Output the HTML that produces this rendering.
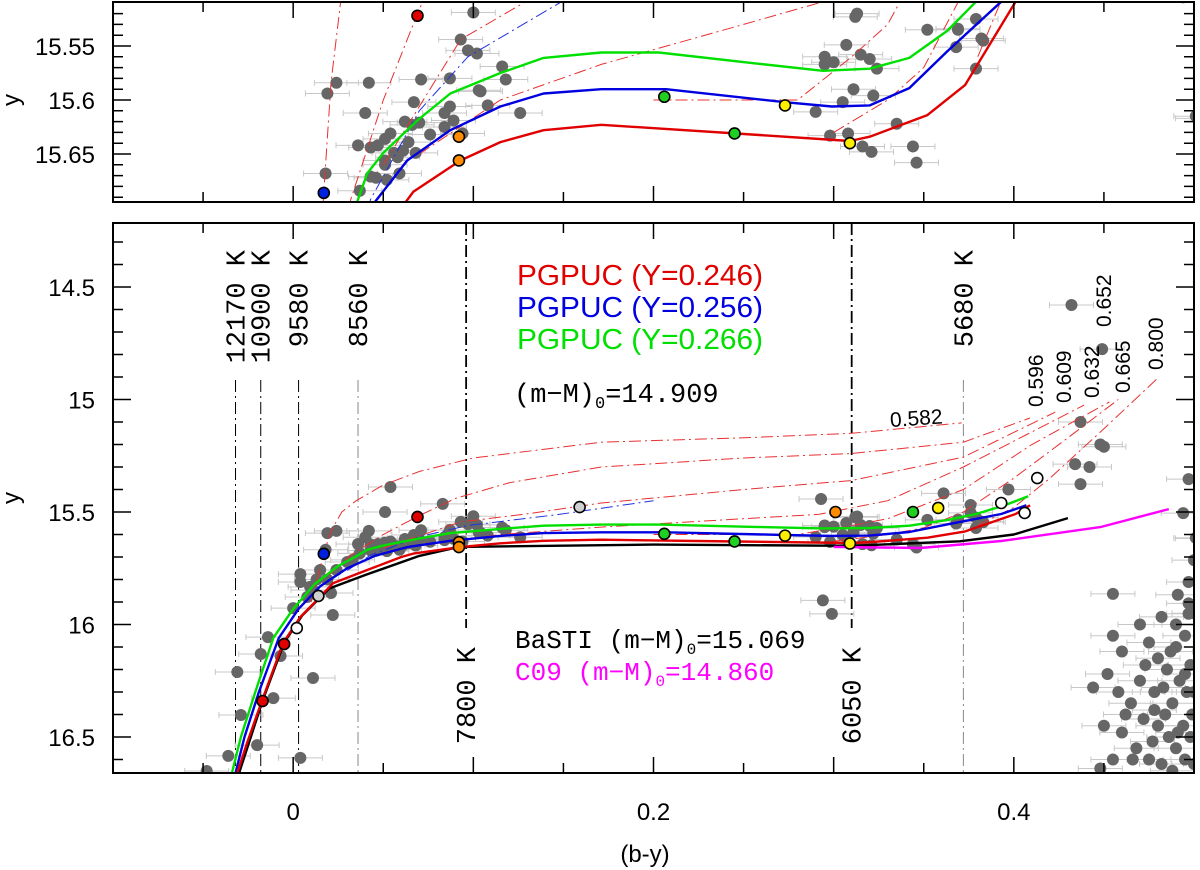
<!DOCTYPE html>
<html><head><meta charset="utf-8">
<style>
html,body{margin:0;padding:0;background:#fff;width:1200px;height:870px;overflow:hidden;}
svg{display:block;}
text{font-family:"Liberation Sans",sans-serif;}
.mono{font-family:"Liberation Mono",monospace;}
</style></head>
<body>
<svg id="chart" xmlns="http://www.w3.org/2000/svg" width="1200" height="870" viewBox="0 0 1200 870">
<defs>
<clipPath id="clipTop"><rect x="113" y="2" width="1081" height="200"/></clipPath>
<clipPath id="clipBot"><rect x="113" y="223" width="1081" height="550"/></clipPath>
</defs>
<g id="topPanel"></g>
<g id="botPanel"></g>
<g id="axes"></g>
<g id="labels"></g>
</svg>
<script>
// ---------- DATA ----------
const xTickLabels = ["0", "0.2", "0.4"];
const xTickLabelVals = [0, 0.2, 0.4];
const botYLabels = ["14.5", "15", "15.5", "16", "16.5"];
const botYLabelVals = [14.5, 15, 15.5, 16, 16.5];
const topYLabels = ["15.55", "15.6", "15.65"];
const topYLabelVals = [15.55, 15.6, 15.65];

const redY246 = [[-0.031,16.66],[-0.0256,16.527],[-0.0172,16.336],[-0.0056,16.082],[0.0039,15.967],[0.0133,15.891],[0.0222,15.816],[0.0411,15.758],[0.06,15.70],[0.0667,15.685],[0.0928,15.656],[0.115,15.639],[0.139,15.628],[0.171,15.623],[0.246,15.631],[0.309,15.638],[0.32,15.634],[0.352,15.614],[0.373,15.586],[0.401,15.509],[0.409,15.47]];
const blueY256 = [[-0.032,16.66],[-0.027,16.5],[-0.019,16.3],[-0.008,16.06],[0.003,15.93],[0.015,15.83],[0.03,15.75],[0.0456,15.694],[0.0633,15.656],[0.0872,15.628],[0.115,15.606],[0.139,15.594],[0.171,15.59],[0.207,15.59],[0.273,15.602],[0.299,15.606],[0.32,15.605],[0.342,15.589],[0.363,15.555],[0.393,15.509],[0.407,15.47]];
const greenY266 = [[-0.034,16.66],[-0.029,16.5],[-0.021,16.3],[-0.011,16.06],[0.0,15.93],[0.012,15.82],[0.025,15.74],[0.0356,15.694],[0.0411,15.668],[0.05,15.649],[0.0689,15.619],[0.0872,15.594],[0.115,15.575],[0.139,15.561],[0.171,15.556],[0.203,15.556],[0.256,15.566],[0.294,15.573],[0.32,15.571],[0.342,15.561],[0.363,15.536],[0.379,15.509],[0.395,15.47],[0.408,15.43]];
const bastiLine = [[-0.03,16.66],[-0.017,16.34],[-0.005,16.08],[0.005,15.96],[0.02,15.84],[0.04,15.78],[0.07,15.695],[0.092,15.655],[0.2,15.645],[0.31,15.65],[0.37,15.63],[0.40,15.60],[0.43,15.527]];
const c09Line = [[0.30,15.655],[0.348,15.66],[0.393,15.629],[0.448,15.567],[0.486,15.487]];
const blueTrack = [[0.03,15.76],[0.043,15.692],[0.07,15.61],[0.097,15.56],[0.148,15.51],[0.2,15.45]];

const trackMasses = ["0.582","0.596","0.609","0.632","0.652","0.665","0.800"];
const track582 = [[0.01,15.9],[0.017,15.685],[0.021,15.584],[0.027,15.50],[0.035,15.45],[0.05,15.38],[0.07,15.32],[0.1,15.26],[0.171,15.19],[0.25,15.17],[0.31,15.15],[0.371,15.104]];
const track596 = [[0.02,15.78],[0.032,15.692],[0.05,15.60],[0.069,15.52],[0.09,15.44],[0.12,15.37],[0.171,15.30],[0.25,15.26],[0.31,15.24],[0.372,15.19],[0.409,15.082]];
const track609 = [[0.05,15.66],[0.093,15.544],[0.131,15.507],[0.171,15.46],[0.25,15.40],[0.31,15.36],[0.372,15.256],[0.423,15.056]];
const track632 = [[0.07,15.65],[0.115,15.60],[0.171,15.567],[0.25,15.53],[0.292,15.51],[0.33,15.45],[0.372,15.30],[0.439,15.025]];
const track652 = [[0.2,15.60],[0.28,15.60],[0.31,15.56],[0.33,15.53],[0.372,15.40],[0.41,15.2],[0.453,15.011]];
const track665 = [[0.30,15.63],[0.33,15.60],[0.35,15.57],[0.372,15.50],[0.40,15.35],[0.43,15.17],[0.458,15.0]];
const track800 = [[0.38,15.56],[0.40,15.48],[0.42,15.35],[0.45,15.13],[0.48,14.904]];

const starsBV = [0.100,0.093,0.097,0.102,0.116,0.118,0.087,0.071,0.042,0.024,0.019,0.103,0.104,0.067,0.108,0.126,0.040,0.087,0.084,0.062,0.066,0.070,0.089,0.084,0.076,0.054,0.051,0.064,0.036,0.043,0.047,0.056,0.061,0.068,0.058,0.051,0.051,0.059,0.043,0.046,0.052,0.018,0.037,0.094,
0.313,0.312,0.352,0.369,0.379,0.307,0.295,0.295,0.300,0.315,0.320,0.324,0.368,0.383,0.379,0.311,0.322,0.305,0.290,0.335,0.298,0.308,0.316,0.321,0.344,0.346,0.502,
0.054,0.083,0.051,0.004,0.004,0.0,0.011,0.021,0.022,-0.014,-0.018,-0.007,-0.031,0.011,-0.011,-0.029,-0.020,-0.036,0.004,-0.048,0.030,0.033,0.024,0.015,0.013,0.0094,0.019,0.0078,
0.293,0.361,0.397,0.437,0.448,0.45,0.434,0.442,0.437,0.376,0.376,0.369,0.382,0.497,0.494,0.501,0.50,0.497,0.455,0.491,0.497,0.497,0.482,0.294,0.299,0.432,0.449,
0.455,0.46,0.452,0.47,0.475,0.48,0.485,0.49,0.495,0.498,0.47,0.478,0.483,0.488,0.492,0.496,0.499,0.465,0.472,0.48,0.486,0.49,0.494,0.498,0.46,0.468,0.475,0.482,0.488,0.495,0.5,0.455,0.462,0.477,0.484,0.491,0.473,0.487,0.495,0.444,0.45,0.458,0.466,0.478,0.5,0.448,0.49,0.5];
const starsY = [15.519,15.544,15.554,15.557,15.569,15.581,15.580,15.581,15.584,15.584,15.594,15.591,15.592,15.602,15.605,15.612,15.612,15.606,15.612,15.620,15.623,15.621,15.619,15.625,15.632,15.631,15.636,15.639,15.642,15.644,15.642,15.649,15.647,15.649,15.653,15.656,15.660,15.668,15.671,15.672,15.674,15.668,15.684,15.631,
15.520,15.523,15.535,15.534,15.525,15.549,15.560,15.567,15.565,15.558,15.562,15.571,15.551,15.545,15.571,15.590,15.596,15.602,15.611,15.622,15.633,15.631,15.643,15.648,15.643,15.658,15.617,
15.389,15.464,15.50,15.776,15.811,15.927,15.847,15.86,15.958,16.056,16.131,16.14,16.211,16.238,16.327,16.402,16.536,16.584,16.593,16.651,15.722,15.713,15.758,15.758,15.80,15.833,15.80,15.878,
15.442,15.417,15.40,15.10,15.20,15.21,15.287,15.30,15.376,15.469,15.504,15.535,15.543,15.354,15.505,15.615,15.714,15.811,15.864,15.868,15.906,15.952,15.966,15.893,15.953,14.58,14.776,
16.05,16.12,16.22,16.0,16.08,16.15,16.2,16.1,16.05,16.18,16.25,16.3,16.28,16.35,16.25,16.3,16.4,16.35,16.42,16.45,16.5,16.55,16.45,16.5,16.48,16.55,16.6,16.62,16.65,16.6,16.62,16.6,16.4,16.52,16.4,16.48,16.18,16.12,16.22,16.28,16.45,16.3,16.6,16.38,16.3,16.64,16.0,15.95];

const specialBV = [0.069,0.017,0.014,0.002,-0.005,-0.017,0.159,0.092,0.092,0.206,0.245,0.273,0.309,0.301,0.344,0.358,0.393,0.406,0.413];
const specialY  = [15.522,15.686,15.873,16.016,16.087,16.34,15.478,15.634,15.656,15.597,15.631,15.605,15.640,15.50,15.50,15.482,15.46,15.504,15.349];
const specialKind = ["red","blue","lightgray","white","red","red","lightgray","orange","orange","green","green","yellow","yellow","orange","green","yellow","white","white","white"];

const tempLabels = ["12170 K","10900 K","9580 K","8560 K","7800 K","6050 K","5680 K"];
const tempBV = [-0.032,-0.018,0.003,0.036,0.096,0.31,0.372];

// ---------- SCALES ----------
const X0=113, X1=1194, XMIN=-0.1, XMAX=0.5;
function sx(b){return X0+(b-XMIN)*(X1-X0)/(XMAX-XMIN);}
function syB(m){return 512+(m-15.5)*225;}
function syT(m){return 100+(m-15.6)*1080;}
const NS="http://www.w3.org/2000/svg";
function mk(tag,attrs,parent){const e=document.createElementNS(NS,tag);for(const k in attrs)e.setAttribute(k,attrs[k]);parent.appendChild(e);return e;}

const gTopPanel=document.getElementById('topPanel');
const gBotPanel=document.getElementById('botPanel');
const gAxes=document.getElementById('axes');
const gLab=document.getElementById('labels');
const gT=mk('g',{'clip-path':'url(#clipTop)'},gTopPanel);


const gB=mk('g',{'clip-path':'url(#clipBot)'},gBotPanel);



function pathD(arr,sy){return arr.map((p,i)=>(i?'L':'M')+sx(p[0]).toFixed(1)+' '+sy(p[1]).toFixed(1)).join(' ');}

// ---------- TEMPERATURE LINES (bottom) ----------
const tempSpan = [[380,773],[380,773],[380,773],[380,773],[223,628],[223,628],[380,773]];
const tempStyle = ["#000","#000","#000","#888","#000","#000","#888"];
tempBV.forEach((b,i)=>{
  const l=mk('line',{x1:sx(b),x2:sx(b),y1:tempSpan[i][0],y2:tempSpan[i][1],stroke:tempStyle[i],'stroke-width':(i==4||i==5)?1.8:1,'stroke-dasharray':'12,4,2,4',fill:'none'},gB);
  
  
});

// ---------- ERROR BARS + STARS ----------
function drawStars(g,sy,yerr){
  starsBV.forEach((b,i)=>{
    const cx=sx(b), cy=sy(starsY[i]);
    const e=mk('path',{d:`M${cx-22} ${cy}H${cx+22}M${cx-22} ${cy-3}V${cy+3}M${cx+22} ${cy-3}V${cy+3}M${cx} ${cy-yerr}V${cy+yerr}`,stroke:'#c8c8c8','stroke-width':1,fill:'none'},g);
    
    
  });
  starsBV.forEach((b,i)=>{
    const c=mk('circle',{cx:sx(b),cy:sy(starsY[i]),r:6,fill:'#666'},g);
    
    
  });
}

function drawTracks(g,sy){
  const tr=[track582,track596,track609,track632,track652,track665,track800];
  tr.forEach((t,i)=>{
    const p=mk('path',{d:pathD(t,sy),stroke:'#e83030','stroke-width':1,fill:'none','stroke-dasharray':'12,4,2,4'},g);
    
    
  });
  const bt=mk('path',{d:pathD(blueTrack,sy),stroke:'#2030e0','stroke-width':1,fill:'none','stroke-dasharray':'12,4,2,4'},g);
  
  
}

function drawCurves(g,sy,withRef){
  const list=[[greenY266,'#00e000','pgpuc-y0266'],[blueY256,'#0000e0','pgpuc-y0256'],[redY246,'#e00000','pgpuc-y0246']];
  if(withRef){list.unshift([c09Line,'#ff00ff','c09-zahb']);list.unshift([bastiLine,'#000','basti-zahb']);}
  list.forEach(c=>{
    const p=mk('path',{d:pathD(c[0],sy),stroke:c[1],'stroke-width':2.4,fill:'none','stroke-linejoin':'round'},g);
    
    
  });
}

const kindColor={red:'#e00000',blue:'#0020e0',lightgray:'#d0d0d0',white:'#ffffff',orange:'#ff8c00',green:'#20d020',yellow:'#ffee00'};
function drawSpecial(g,sy){
  specialBV.forEach((b,i)=>{
    const c=mk('circle',{cx:sx(b),cy:sy(specialY[i]),r:5.5,fill:kindColor[specialKind[i]],stroke:'#000','stroke-width':1.6},g);
    
    
  });
}

drawStars(gT,syT,5); drawTracks(gT,syT); drawCurves(gT,syT,false); drawSpecial(gT,syT);
drawStars(gB,syB,2); drawTracks(gB,syB); drawCurves(gB,syB,true); drawSpecial(gB,syB);

// ---------- FRAMES + TICKS ----------
function frame(y0,y1,name){
  const r=mk('rect',{x:X0,y:y0,width:X1-X0,height:y1-y0,fill:'none',stroke:'#000','stroke-width':2},gAxes);
  
  
}
frame(2,202,'top-panel-frame'); frame(223,773,'bottom-panel-frame');
let td='';
for(let k=0;k<=12;k++){const b=-0.1+k*0.05;const x=sx(b);const L=(k%2==0)?16:10;
  td+=`M${x} 773V${773-L}M${x} 223V${223+L}M${x} 202V${202-L}M${x} 2V${2+L}`;}
for(let k=0;k<=24;k++){const m=14.3+k*0.1;const y=syB(m);if(y<224||y>772)continue;
  const L=(Math.abs(m*2-Math.round(m*2))<1e-6)?18:10;td+=`M${X0} ${y}H${X0+L}M${X1} ${y}H${X1-L}`;}
for(let k=0;k<=20;k++){const m=15.5+k*0.01;const y=syT(m);if(y<3||y>201)continue;
  const L=(Math.abs(m*20-Math.round(m*20))<1e-6)?18:10;td+=`M${X0} ${y}H${X0+L}M${X1} ${y}H${X1-L}`;}
const tk=mk('path',{d:td,stroke:'#000','stroke-width':1.5,fill:'none'},gAxes);



function txt(str,attrs,parent,name){const t=mk('text',attrs,parent);t.textContent=str;return t;}
xTickLabels.forEach((s,i)=>txt(s,{x:sx(xTickLabelVals[i]),y:820,'font-size':24,'text-anchor':'middle'},gAxes,'x-tick-label'));
botYLabels.forEach((s,i)=>txt(s,{x:95,y:syB(botYLabelVals[i])+9,'font-size':24,'text-anchor':'end'},gAxes,'y-tick-label'));
topYLabels.forEach((s,i)=>txt(s,{x:95,y:syT(topYLabelVals[i])+9,'font-size':24,'text-anchor':'end'},gAxes,'top-y-tick-label'));
txt('(b-y)',{x:645,y:862,'font-size':24,'text-anchor':'middle'},gAxes,'x-axis-title');
txt('y',{x:0,y:0,'font-size':24,'text-anchor':'middle',transform:'translate(19,498) rotate(-90)'},gAxes,'y-axis-title');
txt('y',{x:0,y:0,'font-size':24,'text-anchor':'middle',transform:'translate(19,100) rotate(-90)'},gAxes,'top-y-axis-title');

// ---------- TEMPERATURE LABELS ----------
const tempLabelEnd=[250,250,250,250,647,647,250];
tempBV.forEach((b,i)=>{
  txt(tempLabels[i],{x:0,y:0,'font-size':27,'text-anchor':'end',class:'mono',transform:`translate(${sx(b)+9},${tempLabelEnd[i]}) rotate(-90)`},gLab,'temperature-label');
});

// ---------- LEGEND ----------
txt('PGPUC (Y=0.246)',{x:517,y:285,'font-size':29,fill:'#e00000',textLength:246,lengthAdjust:'spacingAndGlyphs'},gLab,'legend-y0246');
txt('PGPUC (Y=0.256)',{x:517,y:317,'font-size':29,fill:'#0000e0',textLength:246,lengthAdjust:'spacingAndGlyphs'},gLab,'legend-y0256');
txt('PGPUC (Y=0.266)',{x:517,y:349,'font-size':29,fill:'#00e000',textLength:246,lengthAdjust:'spacingAndGlyphs'},gLab,'legend-y0266');
const dm=mk('text',{x:514,y:402,'font-size':27,class:'mono'},gLab);


dm.innerHTML='(m−M)<tspan font-size="17" dy="6">0</tspan><tspan dy="-6">=14.909</tspan>';
const bs=mk('text',{x:515,y:648,'font-size':26,class:'mono'},gLab);


bs.innerHTML='BaSTI (m−M)<tspan font-size="16" dy="6">0</tspan><tspan dy="-6">=15.069</tspan>';
const cn=mk('text',{x:515,y:680,'font-size':26,class:'mono',fill:'#ff00ff'},gLab);


cn.innerHTML='C09 (m−M)<tspan font-size="16" dy="6">0</tspan><tspan dy="-6">=14.860</tspan>';

// ---------- TRACK MASS LABELS ----------
txt(trackMasses[0],{x:890,y:425,'font-size':21,transform:'rotate(-4 920 418)'},gLab,'track-label');
const tmX=[null,1035,1063,1091,1103,1122,1155];
const tmB=[null,407,403,398,327,393,370];
for(let i=1;i<trackMasses.length;i++){
  txt(trackMasses[i],{x:0,y:0,'font-size':21,transform:`translate(${tmX[i]+8},${tmB[i]}) rotate(-90)`},gLab,'track-label');
}
</script>
</body></html>
